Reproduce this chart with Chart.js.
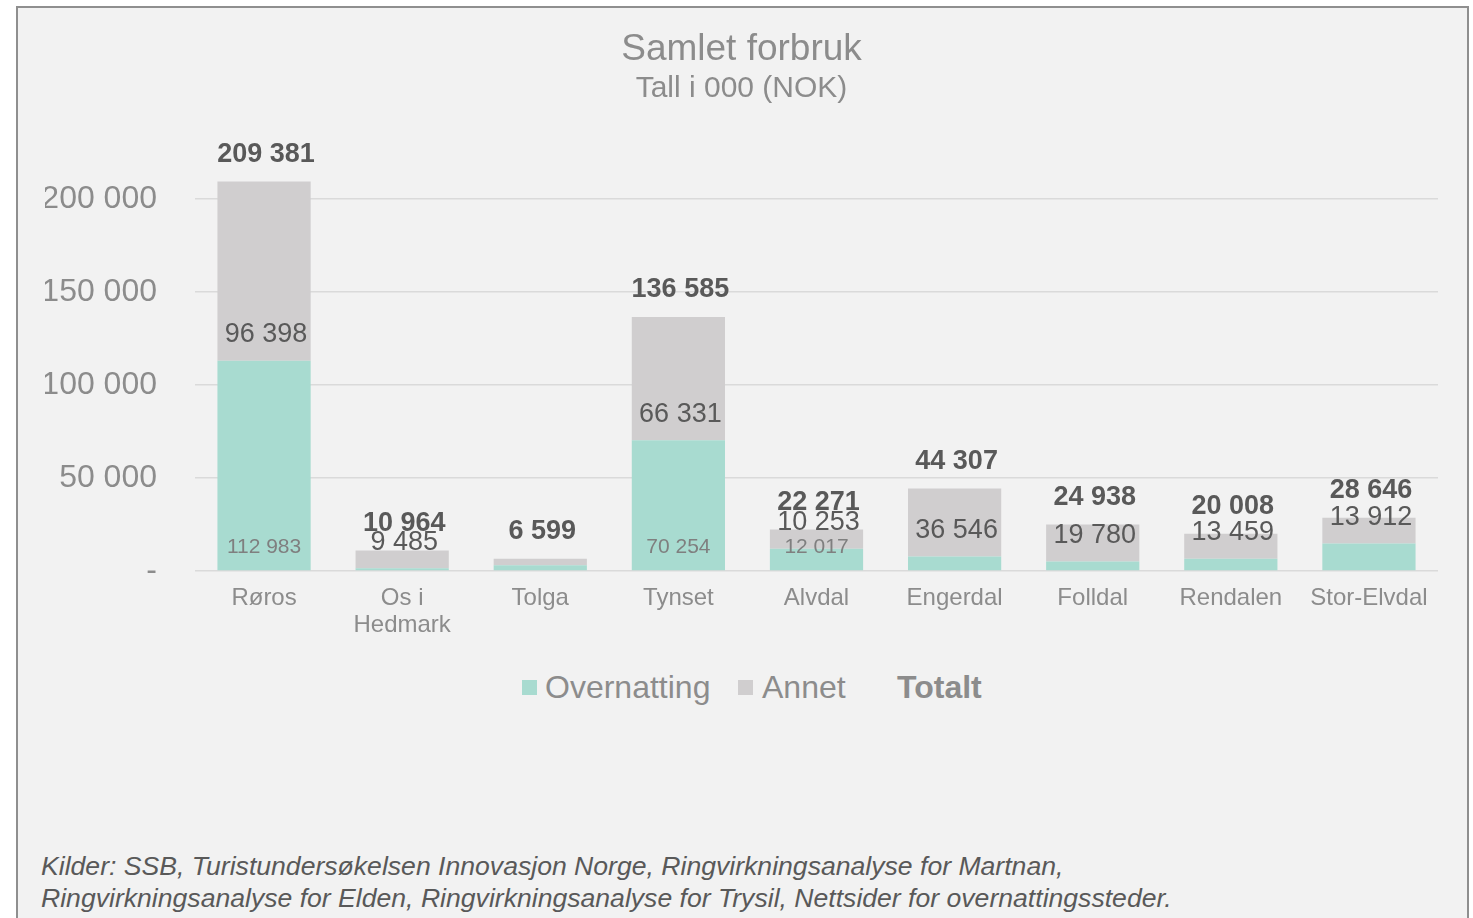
<!DOCTYPE html>
<html>
<head>
<meta charset="utf-8">
<script src="https://cdn.jsdelivr.net/npm/chart.js@4.4.1/dist/chart.umd.min.js"></script>
<style>
  html, body { margin: 0; padding: 0; background: #ffffff; }
  body { width: 1473px; height: 918px; overflow: hidden; position: relative; font-family: "Liberation Sans", Arial, sans-serif; }
  #frame { position: absolute; left: 16px; top: 6px; width: 1453px; height: 940px; background: #f2f2f2; border: 2px solid #8f8f8f; box-sizing: border-box; }
  #chartBox { position: absolute; left: -1px; top: 1px; width: 1449px; height: 640px; }
  .leg { position: absolute; top: 660px; font-size: 32px; color: #8c8c8c; line-height: 38px; white-space: nowrap; }
  .sw { position: absolute; top: 672px; width: 15px; height: 15px; }
  #source { position: absolute; left: 23px; top: 842px; font-size: 26.6px; font-style: italic; color: #595959; line-height: 32px; white-space: nowrap; }
</style>
</head>
<body>
<div id="frame">
  <div id="chartBox"><canvas id="chart"></canvas></div>
  <div class="sw" style="left:504px; background:#a8dbd0;"></div>
  <div class="leg" style="left:527px;">Overnatting</div>
  <div class="sw" style="left:720px; background:#d0cecf;"></div>
  <div class="leg" style="left:744px;">Annet</div>
  <div class="leg" style="left:879px; font-weight:bold;">Totalt</div>
  <div id="source">Kilder: SSB, Turistundersøkelsen Innovasjon Norge, Ringvirkningsanalyse for Martnan,<br>Ringvirkningsanalyse for Elden, Ringvirkningsanalyse for Trysil, Nettsider for overnattingssteder.</div>
</div>
<script>
// values in 000 NOK
const categories = ['Røros', ['Os i', 'Hedmark'], 'Tolga', 'Tynset', 'Alvdal', 'Engerdal', 'Folldal', 'Rendalen', 'Stor-Elvdal'];
const overnatting = [112983, 1479, 3100, 70254, 12017, 7761, 5158, 6549, 14734];
const annet = [96398, 9485, 3499, 66331, 10253, 36546, 19780, 13459, 13912];
const totalt = [209381, 10964, 6599, 136585, 22271, 44307, 24938, 20008, 28646];
// which segment labels are visible in the original
const showOvernattingLabel = [true, false, false, true, true, false, false, false, false];
const showAnnetLabel = [true, true, false, true, true, true, true, true, true];
const yTicks = [0, 50000, 100000, 150000, 200000];

const fmt = v => String(v).replace(/\B(?=(\d{3})+(?!\d))/g, ' ');
const FONT = '"Liberation Sans", Arial, sans-serif';

const labelPlugin = {
  id: 'barLabels',
  afterDatasetsDraw(chart) {
    const ctx = chart.ctx;
    const y = chart.scales.y;
    const x = chart.scales.x;
    ctx.save();
    ctx.textAlign = 'center';
    ctx.textBaseline = 'middle';
    categories.forEach((c, i) => {
      const cx = x.getPixelForValue(i);
      if (showOvernattingLabel[i]) {
        ctx.font = '21px ' + FONT;
        ctx.fillStyle = '#7f7f7f';
        ctx.fillText(fmt(overnatting[i]), cx, y.getPixelForValue(0) - 24);
      }
      if (showAnnetLabel[i]) {
        ctx.font = '27px ' + FONT;
        ctx.fillStyle = '#595959';
        ctx.fillText(fmt(annet[i]), cx + 2, y.getPixelForValue(overnatting[i]) - 26);
      }
      ctx.font = 'bold 27px ' + FONT;
      ctx.fillStyle = '#595959';
      ctx.fillText(fmt(totalt[i]), cx + 2, y.getPixelForValue(totalt[i]) - 27);
    });
    ctx.restore();
  }
};

new Chart(document.getElementById('chart'), {
  type: 'bar',
  data: {
    labels: categories,
    datasets: [
      { label: 'Overnatting', data: overnatting, backgroundColor: '#a8dbd0', stack: 's', barPercentage: 1, categoryPercentage: 0.675, order: 2 },
      { label: 'Annet', data: annet, backgroundColor: '#d0cecf', stack: 's', barPercentage: 1, categoryPercentage: 0.675, order: 2 },
      { type: 'line', label: 'Totalt', data: totalt, showLine: false, pointRadius: 0, borderColor: 'transparent', backgroundColor: 'transparent', order: 1 }
    ]
  },
  options: {
    responsive: true,
    maintainAspectRatio: false,
    animation: false,
    layout: { padding: { left: 28, right: 28, top: 0, bottom: 0 } },
    plugins: {
      legend: { display: false },
      tooltip: { enabled: false },
      title: {
        display: true,
        text: 'Samlet forbruk',
        color: '#8c8c8c',
        font: { family: FONT, size: 37, weight: 'normal', lineHeight: 1.15 },
        padding: { top: 20, bottom: 0 }
      },
      subtitle: {
        display: true,
        text: 'Tall i 000 (NOK)',
        color: '#8c8c8c',
        font: { family: FONT, size: 30, weight: 'normal', lineHeight: 1.15 },
        padding: { top: 0, bottom: 0 }
      }
    },
    scales: {
      x: {
        stacked: true,
        grid: { display: false, drawTicks: false },
        border: { display: false },
        ticks: { color: '#8c8c8c', font: { family: FONT, size: 24, lineHeight: 1.12 }, padding: 14, maxRotation: 0, autoSkip: false },
        afterFit(scale) { scale.height = 78; }
      },
      y: {
        stacked: true,
        min: 0,
        max: 250000,
        afterBuildTicks(scale) { scale.ticks = yTicks.map(v => ({ value: v })); },
        grid: { color: '#dadada', lineWidth: 1.5, drawTicks: false },
        border: { display: false },
        ticks: {
          color: '#8c8c8c',
          font: { family: FONT, size: 32 },
          padding: 38,
          callback: v => v === 0 ? '-' : fmt(v)
        },
        afterFit(scale) { scale.width = 150; }
      }
    }
  },
  plugins: [labelPlugin]
});
</script>
</body>
</html>
